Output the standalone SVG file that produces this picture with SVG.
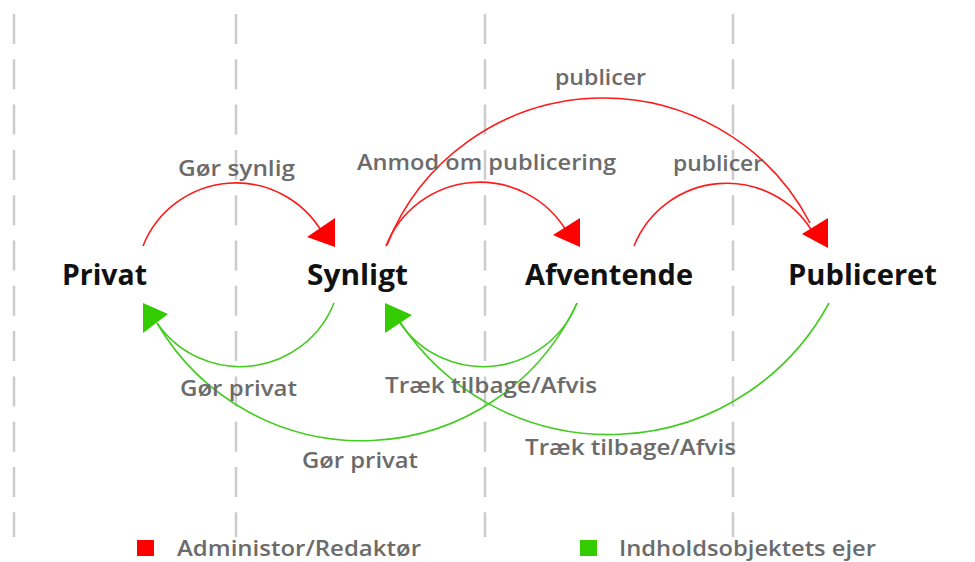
<svg xmlns="http://www.w3.org/2000/svg" width="975" height="562" viewBox="0 0 975 562">
<style>
.guide{stroke:#cccccc;stroke-width:2.5;stroke-dasharray:30 15.3;fill:none}
.red{stroke:#ff1a1a;stroke-width:1.6;fill:none}
.green{stroke:#44cc22;stroke-width:1.6;fill:none}
.rh{fill:#ff0000}
.gh{fill:#33cc00}
.node{font-family:"Open Sans","Noto Sans",sans-serif;font-weight:700;font-size:29px;fill:#111111}
.lbl{font-family:"Open Sans","Noto Sans",sans-serif;font-weight:600;font-size:22px;fill:#6b6b6b}
</style>
<rect width="975" height="562" fill="#ffffff"/>
<g id="guides">
<line class="guide" x1="14" y1="14" x2="14" y2="537"/>
<line class="guide" x1="236" y1="14" x2="236" y2="537"/>
<line class="guide" x1="485" y1="14" x2="485" y2="537"/>
<line class="guide" x1="733" y1="14" x2="733" y2="537"/>
</g>
<g id="connectors">
<path class="red" d="M143,246 A100,100 0 0 1 322,232"/>
<path class="red" d="M386,246 A101,101 0 0 1 567,232"/>
<path class="red" d="M634,246 A100,100 0 0 1 812,231"/>
<path class="red" d="M387,245 A233,233 0 0 1 810,223"/>
<path class="green" d="M334,303 A101,101 0 0 1 157,323"/>
<path class="green" d="M577,303 A237,237 0 0 1 157,323"/>
<path class="green" d="M577,303 A101,101 0 0 1 400,323"/>
<path class="green" d="M829,303 A250,250 0 0 1 400,322"/>
<polygon class="rh" points="307,237 335,218 335,247"/>
<polygon class="rh" points="553,235 580,218 580,247"/>
<polygon class="rh" points="802,234 828,218 828,248"/>
<polygon class="gh" points="143,303 168,314 143,333"/>
<polygon class="gh" points="385,303 412,315 385,333"/>
<text class="lbl" x="178" y="176" textLength="117" lengthAdjust="spacingAndGlyphs">Gør synlig</text>
<text class="lbl" x="357" y="170" textLength="259" lengthAdjust="spacingAndGlyphs">Anmod om publicering</text>
<text class="lbl" x="555" y="85" textLength="91" lengthAdjust="spacingAndGlyphs">publicer</text>
<text class="lbl" x="673" y="171" textLength="90" lengthAdjust="spacingAndGlyphs">publicer</text>
<text class="lbl" x="180" y="396" textLength="117" lengthAdjust="spacingAndGlyphs">Gør privat</text>
<text class="lbl" x="302" y="468" textLength="116" lengthAdjust="spacingAndGlyphs">Gør privat</text>
<text class="lbl" x="385" y="393" textLength="212" lengthAdjust="spacingAndGlyphs">Træk tilbage/Afvis</text>
<text class="lbl" x="525" y="455" textLength="211" lengthAdjust="spacingAndGlyphs">Træk tilbage/Afvis</text>
</g>
<g id="node-privat"><text class="node" x="62" y="285" textLength="85" lengthAdjust="spacingAndGlyphs">Privat</text></g>
<g id="node-synligt"><text class="node" x="307" y="285" textLength="101" lengthAdjust="spacingAndGlyphs">Synligt</text></g>
<g id="node-afventende"><text class="node" x="525" y="285" textLength="168" lengthAdjust="spacingAndGlyphs">Afventende</text></g>
<g id="node-publiceret"><text class="node" x="788" y="285" textLength="149" lengthAdjust="spacingAndGlyphs">Publiceret</text></g>
<g id="legend">
<rect x="137" y="540" width="17" height="16" fill="#ff0000"/>
<text class="lbl" x="177" y="556" textLength="244" lengthAdjust="spacingAndGlyphs">Administor/Redaktør</text>
<rect x="580" y="540" width="17" height="16" fill="#33cc00"/>
<text class="lbl" x="619" y="556" textLength="257" lengthAdjust="spacingAndGlyphs">Indholdsobjektets ejer</text>
</g>
</svg>
